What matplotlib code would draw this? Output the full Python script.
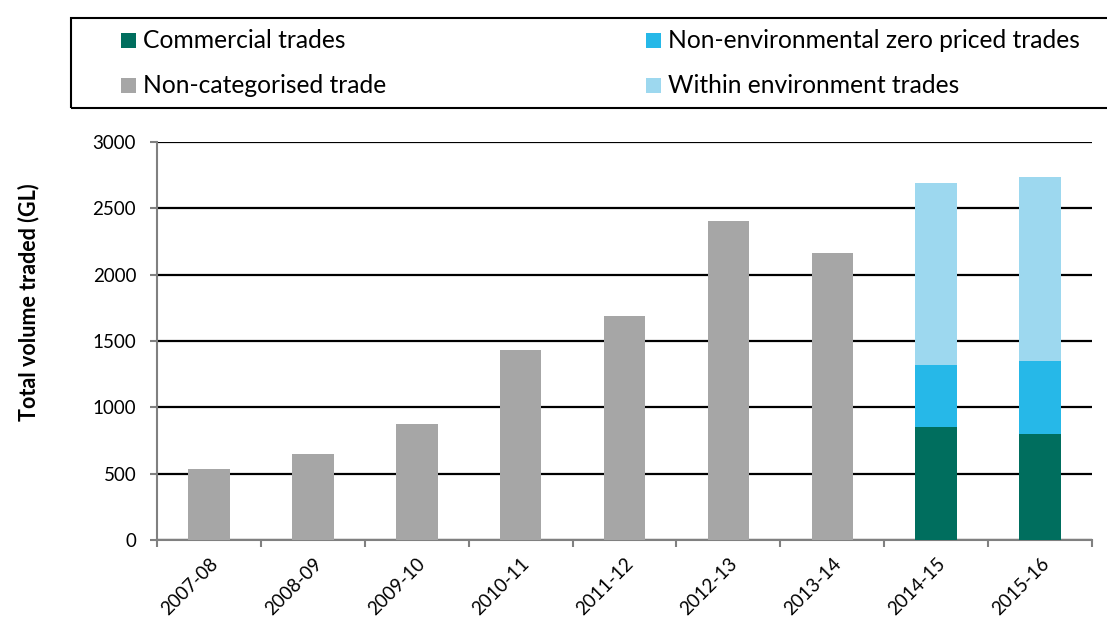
import matplotlib
matplotlib.use("Agg")
import matplotlib.pyplot as plt
import matplotlib.transforms as mtransforms
from matplotlib.patches import Rectangle
import numpy as np

plt.rcParams['font.family'] = ['Lato', 'DejaVu Sans']

years = ["2007-08", "2008-09", "2009-10", "2010-11", "2011-12", "2012-13", "2013-14", "2014-15", "2015-16"]
non_categorised = [537, 648, 877, 1432, 1688, 2404, 2163, 0, 0]
commercial = [0, 0, 0, 0, 0, 0, 0, 854, 799]
non_env_zero = [0, 0, 0, 0, 0, 0, 0, 465, 550]
within_env = [0, 0, 0, 0, 0, 0, 0, 1369, 1386]

legend_labels = ["Commercial trades", "Non-categorised trade",
                 "Non-environmental zero priced trades", "Within environment trades"]

c_comm = "#006e5e"
c_nonenv = "#26b8e8"
c_noncat = "#a6a6a6"
c_within = "#9dd8ef"

W, H = 1107, 617
fig = plt.figure(figsize=(W/100, H/100), dpi=100)
ax = fig.add_axes([157/W, (H-540)/H, (1092-157)/W, (540-142)/H])

x = np.arange(len(years))
bw = 0.4
ax.bar(x, non_categorised, bw, color=c_noncat, zorder=3)
ax.bar(x, commercial, bw, color=c_comm, zorder=3)
b1 = np.array(commercial)
ax.bar(x, non_env_zero, bw, bottom=b1, color=c_nonenv, zorder=3)
b2 = b1 + np.array(non_env_zero)
ax.bar(x, within_env, bw, bottom=b2, color=c_within, zorder=3)

ax.set_xlim(-0.5, len(years) - 0.5)
ax.set_ylim(0, 3000)
ax.set_yticks(np.arange(0, 3001, 500))
ax.yaxis.grid(True, color="black", linewidth=1.6, zorder=0)
ax.set_axisbelow(True)
for s in ["top", "right"]:
    ax.spines[s].set_visible(False)
for s in ["left", "bottom"]:
    ax.spines[s].set_color("#808080")
    ax.spines[s].set_linewidth(1.5)
ax.set_xticks(x)
ax.set_xticklabels(years, rotation=45, ha="right", rotation_mode="anchor", fontsize=13.5)
offset = mtransforms.ScaledTranslation(4/100, 0, fig.dpi_scale_trans)
for lab in ax.get_xticklabels():
    lab.set_transform(lab.get_transform() + offset)
ax.set_xticks(np.arange(-0.5, len(years), 1), minor=True)
ax.tick_params(axis="x", which="major", length=0, pad=11)
ax.tick_params(axis="x", which="minor", length=5, width=1.5, color="#808080")
ax.tick_params(axis="y", length=5, width=1.5, color="#808080", labelsize=13.5, pad=10)
ax.set_ylabel("Total volume traded (GL)", fontsize=15.5, fontweight="bold")
ax.yaxis.set_label_coords((39-157)/935, (540-302)/398)

# legend box
fig.patches.append(Rectangle((71/W, (H-107.5)/H), (1112-71)/W, 90/H, transform=fig.transFigure,
                             fill=False, edgecolor="black", linewidth=1.5))
colors = [c_comm, c_noncat, c_nonenv, c_within]
marker_x = [121, 121, 646, 646]
text_x = [143, 143, 668, 668]
base_y = [47.7, 92.7, 47.7, 92.7]
for lab, col, mx, tx, by in zip(legend_labels, colors, marker_x, text_x, base_y):
    fig.patches.append(Rectangle((mx/W, (H-by)/H), 15/W, 15/H, transform=fig.transFigure,
                                 facecolor=col, edgecolor="none"))
    fig.text(tx/W, (H-by)/H, lab, fontsize=17.7, va="baseline", ha="left")

fig.savefig("out.png", dpi=100)
